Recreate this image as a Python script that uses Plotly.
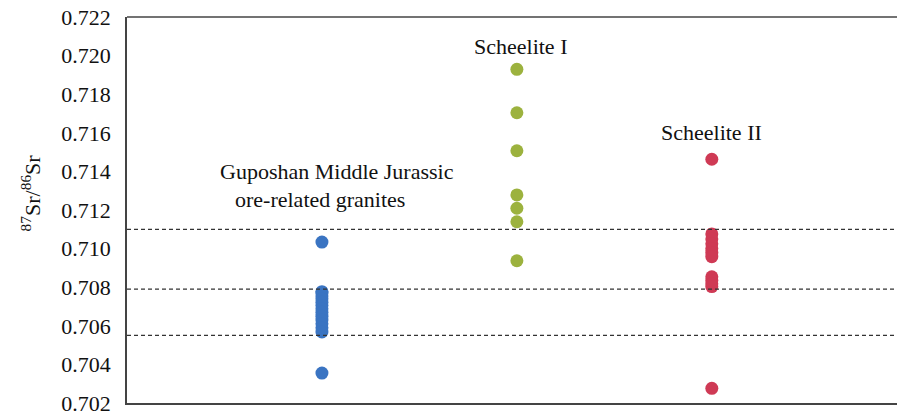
import plotly.graph_objects as go

# 87Sr/86Sr ratios by group
groups = ["Guposhan Middle Jurassic ore-related granites", "Scheelite I", "Scheelite II"]
granite_sr = [0.71034, 0.70777, 0.70770, 0.70755, 0.70740, 0.70722, 0.70705, 0.70688,
              0.70670, 0.70650, 0.70630, 0.70610, 0.70590, 0.70568, 0.70355]
scheelite1_sr = [0.71929, 0.71704, 0.71507, 0.71278, 0.71209, 0.71139, 0.70937]
scheelite2_sr = [0.71463, 0.71076, 0.71050, 0.71025, 0.71000, 0.70980, 0.70958,
                 0.70854, 0.70835, 0.70818, 0.70803, 0.70276]
reference_lines = [0.7110, 0.7079, 0.7055]
y_ticks = [0.702, 0.704, 0.706, 0.708, 0.710, 0.712, 0.714, 0.716, 0.718, 0.720, 0.722]

series = [
    (1, granite_sr, "#3a74c2"),
    (2, scheelite1_sr, "#9cb23e"),
    (3, scheelite2_sr, "#cf3a55"),
]

FONT = "Liberation Serif"

fig = go.Figure()
for xpos, vals, color in series:
    fig.add_trace(go.Scatter(
        x=[xpos] * len(vals), y=vals, mode="markers",
        marker=dict(size=13, color=color, line=dict(width=0)),
        showlegend=False,
    ))

for v in reference_lines:
    fig.add_shape(type="line", xref="paper", x0=0, x1=1, yref="y", y0=v, y1=v,
                  line=dict(color="#333333", width=1.2, dash="4px,3px"))

# top frame line
fig.add_shape(type="line", xref="paper", x0=0, x1=1, yref="paper", y0=1, y1=1,
              line=dict(color="#444444", width=1.6))

labels = [
    (1.078, 0.71397, "Guposhan Middle Jurassic"),
    (0.992, 0.71257, "ore-related granites"),
    (2.02, 0.72048, "Scheelite I"),
    (3.0, 0.71600, "Scheelite II"),
]
for x, y, t in labels:
    fig.add_annotation(x=x, y=y, text=t, showarrow=False,
                       font=dict(family=FONT, size=22, color="#111111"),
                       xanchor="center", yanchor="middle")

fig.add_annotation(xref="paper", yref="paper", x=-0.125, y=0.545,
                   text="<sup>87</sup>Sr/<sup>86</sup>Sr", textangle=-90,
                   showarrow=False, xanchor="center", yanchor="middle",
                   font=dict(family=FONT, size=22, color="#111111"))

fig.update_xaxes(range=[0, 3.95], showticklabels=False, ticks="", showgrid=False,
                 zeroline=False, showline=True, linecolor="#444444", linewidth=1.6,
                 mirror=False)
fig.update_yaxes(range=[0.702, 0.722], tickvals=y_ticks, tickformat=".3f",
                 ticks="", showgrid=False, zeroline=False, showline=True,
                 linecolor="#444444", linewidth=1.6, mirror=False,
                 ticklabelstandoff=10,
                 tickfont=dict(family=FONT, size=22, color="#111111"))

fig.update_layout(
    width=897, height=419,
    margin=dict(l=127, r=0, t=17, b=16),
    paper_bgcolor="white", plot_bgcolor="white",
)

fig.write_html("out.html")
